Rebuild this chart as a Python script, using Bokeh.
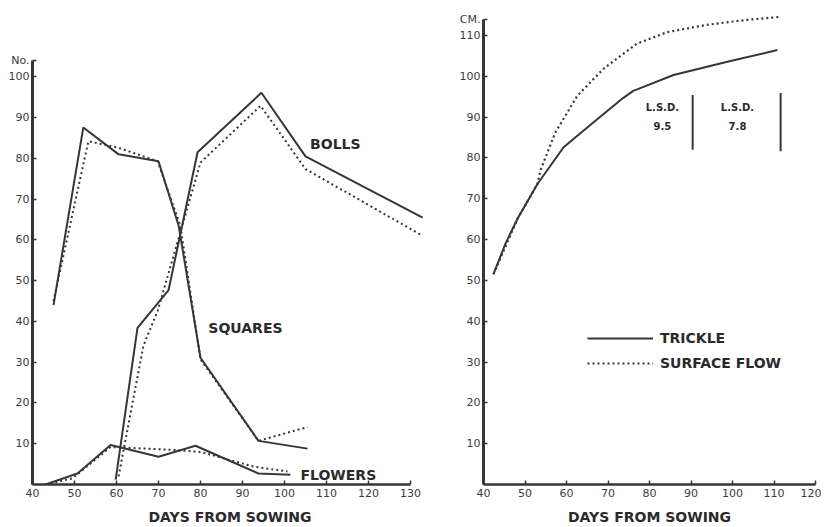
from bokeh.plotting import figure
from bokeh.layouts import row
from bokeh.models import Range1d, FixedTicker, Label, Legend, LegendItem
from bokeh.embed import file_html
from bokeh.resources import INLINE

# ---------------- data: left panel (number per plant) ----------------
bolls_trickle_days = [59.8, 65.0, 72.4, 79.3, 94.5, 105.0, 132.9]
bolls_trickle_vals = [1.2, 38.4, 47.7, 81.5, 96.1, 80.5, 65.5]
bolls_surface_days = [60.5, 66.4, 69.8, 80.0, 94.3, 105.0, 132.9]
bolls_surface_vals = [2.0, 34.0, 42.6, 79.0, 92.9, 77.4, 61.0]

squares_trickle_days = [45.0, 52.1, 60.5, 70.0, 74.8, 80.0, 93.8, 105.5]
squares_trickle_vals = [44.0, 87.6, 81.0, 79.3, 63.5, 31.1, 10.7, 8.8]
squares_surface_days = [45.0, 53.3, 60.2, 69.8, 75.2, 80.0, 93.8, 105.5]
squares_surface_vals = [45.0, 84.2, 82.7, 79.3, 63.5, 30.7, 10.7, 14.1]

flowers_trickle_days = [43.1, 50.7, 58.6, 70.0, 78.8, 93.8, 101.4]
flowers_trickle_vals = [0.0, 2.7, 9.7, 6.8, 9.5, 2.7, 2.4]
flowers_surface_days = [43.1, 49.5, 58.6, 73.3, 80.0, 92.6, 100.7]
flowers_surface_vals = [0.0, 1.5, 9.2, 8.5, 8.0, 4.4, 3.2]

left_x_ticks = [40, 50, 60, 70, 80, 90, 100, 110, 120, 130]
left_y_ticks = [10, 20, 30, 40, 50, 60, 70, 80, 90, 100, 104]
left_y_unit = {104: "No."}

# ---------------- data: right panel (plant height, cm) ----------------
trickle_days = [42.4, 45.3, 48.2, 53.0, 59.3, 65.8, 73.7, 76.1, 85.8, 99.5, 110.8]
trickle_vals = [51.5, 59.0, 65.1, 73.6, 82.6, 88.1, 94.7, 96.4, 100.3, 103.7, 106.4]
surface_days = [42.4, 48.2, 53.0, 53.7, 57.3, 62.6, 69.0, 77.0, 84.3, 94.0, 103.5, 111.2]
surface_vals = [51.5, 65.1, 73.6, 76.9, 86.2, 95.2, 101.9, 108.0, 110.8, 112.6, 113.8, 114.5]

lsd_x = [90.4, 111.6]
lsd_low = [82.0, 81.6]
lsd_high = [95.4, 95.9]
lsd_texts = ["L.S.D.", "L.S.D."]
lsd_values = ["9.5", "7.8"]

right_x_ticks = [40, 50, 60, 70, 80, 90, 100, 110, 120]
right_y_ticks = [10, 20, 30, 40, 50, 60, 70, 80, 90, 100, 110, 114]
right_y_unit = {114: "CM."}

INK = "#363636"
TXT = "#2a2a2a"
FONT = "DejaVu Sans"


def style_axes(p, xt, yt, xb, yb, overrides):
    p.xaxis.ticker = FixedTicker(ticks=xt)
    p.yaxis.ticker = FixedTicker(ticks=yt)
    p.yaxis.major_label_overrides = overrides
    p.xaxis.bounds = xb
    p.yaxis.bounds = yb
    for ax in (p.xaxis[0], p.yaxis[0]):
        ax.axis_line_color = INK
        ax.major_tick_line_color = INK
        ax.major_tick_line_width = 1.5
        ax.major_tick_in = 4
        ax.major_tick_out = 0
        ax.minor_tick_line_color = None
        ax.major_label_text_font = FONT
        ax.major_label_text_font_size = "11px"
        ax.major_label_text_color = "#3c3c3c"
    p.yaxis.major_label_standoff = 3
    p.xaxis.major_label_standoff = 4
    p.xaxis.axis_line_width = 2.5
    p.yaxis.axis_line_width = 3
    p.xaxis.axis_label = "DAYS FROM SOWING"
    p.xaxis.axis_label_text_font = FONT
    p.xaxis.axis_label_text_font_style = "bold"
    p.xaxis.axis_label_text_font_size = "14px"
    p.xaxis.axis_label_text_color = TXT
    p.xaxis.axis_label_standoff = 9
    p.xgrid.grid_line_color = None
    p.ygrid.grid_line_color = None
    p.outline_line_color = None


def text_label(p, x, y, text, size, align="center"):
    p.add_layout(Label(x=x, y=y, text=text, text_align=align, text_font=FONT,
                       text_font_style="bold", text_font_size=size, text_color=TXT,
                       text_baseline="middle"))


# ---------------- left figure ----------------
p1 = figure(width=443, height=527, x_range=Range1d(40, 134.05), y_range=Range1d(0, 115.8),
            output_backend="svg", toolbar_location=None,
            min_border_left=32, min_border_right=16, min_border_top=12, min_border_bottom=39)
style_axes(p1, left_x_ticks, left_y_ticks, (40, 130), (0, 104), left_y_unit)

for d, v in [(bolls_trickle_days, bolls_trickle_vals), (squares_trickle_days, squares_trickle_vals),
             (flowers_trickle_days, flowers_trickle_vals)]:
    p1.line(d, v, line_color=INK, line_width=2)
for d, v in [(bolls_surface_days, bolls_surface_vals), (squares_surface_days, squares_surface_vals),
             (flowers_surface_days, flowers_surface_vals)]:
    p1.line(d, v, line_color=INK, line_width=2, line_dash="2 3")

text_label(p1, 112.1, 83.5, "BOLLS", "14px")
text_label(p1, 90.7, 38.4, "SQUARES", "14px")
text_label(p1, 103.8, 2.4, "FLOWERS", "14px", align="left")

# ---------------- right figure ----------------
p2 = figure(width=378, height=527, x_range=Range1d(40, 120), y_range=Range1d(0, 115.6),
            output_backend="svg", toolbar_location=None,
            min_border_left=40, min_border_right=6, min_border_top=12, min_border_bottom=39)
style_axes(p2, right_x_ticks, right_y_ticks, (40, 120), (0, 114), right_y_unit)

r_t = p2.line(trickle_days, trickle_vals, line_color=INK, line_width=2)
r_s = p2.line(surface_days, surface_vals, line_color=INK, line_width=2.2, line_dash="2 3")
p2.segment(x0=lsd_x, y0=lsd_low, x1=lsd_x, y1=lsd_high, line_color=INK, line_width=2)

lsd_label_x = [83.1, 101.2]
for i in range(2):
    text_label(p2, lsd_label_x[i], 92.3, lsd_texts[i], "10px")
    text_label(p2, lsd_label_x[i], 87.7, lsd_values[i], "10px")

legend = Legend(items=[LegendItem(label="TRICKLE", renderers=[r_t]),
                       LegendItem(label="SURFACE FLOW", renderers=[r_s])],
                location=(104, 113), orientation="vertical",
                glyph_width=66, glyph_height=16, label_height=16, spacing=9,
                padding=0, margin=0, label_standoff=7,
                border_line_color=None, background_fill_alpha=0,
                label_text_font=FONT, label_text_font_style="bold",
                label_text_font_size="14px", label_text_color=TXT)
p2.add_layout(legend)

layout = row(p1, p2)
open("out.html", "w").write(file_html(layout, INLINE))
